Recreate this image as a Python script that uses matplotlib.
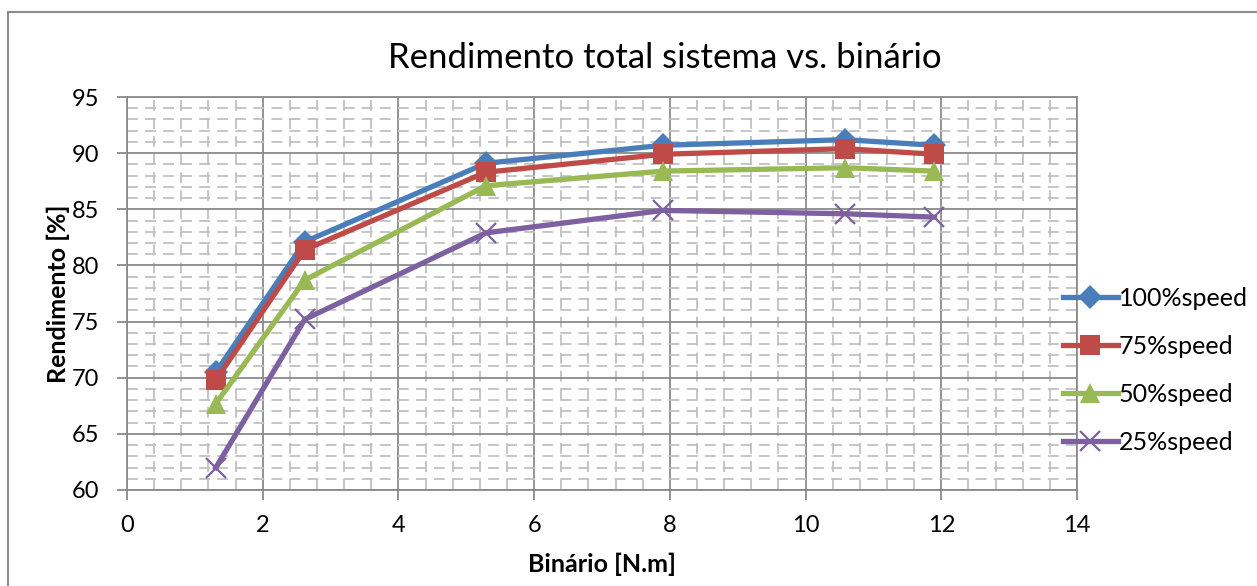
import matplotlib.pyplot as plt
from matplotlib.patches import Rectangle
from matplotlib.ticker import MultipleLocator

plt.rcParams['font.family'] = ['Lato', 'DejaVu Sans']

# binário [N.m] e rendimento [%] para cada velocidade
binario = [1.31, 2.62, 5.29, 7.90, 10.58, 11.90]
rend_100 = [70.5, 82.1, 89.1, 90.7, 91.2, 90.7]
rend_75 = [69.8, 81.4, 88.3, 89.9, 90.4, 89.9]
rend_50 = [67.7, 78.7, 87.1, 88.4, 88.7, 88.4]
rend_25 = [62.0, 75.2, 82.9, 84.9, 84.6, 84.3]

series = [
    ('100%speed', rend_100, '#4A7EBB', 'D', 12),
    ('75%speed', rend_75, '#BE4B48', 's', 14),
    ('50%speed', rend_50, '#98B954', '^', 14),
    ('25%speed', rend_25, '#7D60A0', 'x', 14),
]

fig = plt.figure(figsize=(12.57, 5.86), dpi=100)
fig.patches.append(Rectangle((8 / 1257, -0.05), 1.1, 1 - 12 / 586 + 0.05,
                             transform=fig.transFigure, fill=False,
                             edgecolor='#8C8C8C', linewidth=1.5))
ax = fig.add_axes([127 / 1257, 1 - 490 / 586, 950 / 1257, 393 / 586])

ax.set_xlim(0, 14)
ax.set_ylim(60, 95)
ax.xaxis.set_major_locator(MultipleLocator(2))
ax.xaxis.set_minor_locator(MultipleLocator(0.4))
ax.yaxis.set_major_locator(MultipleLocator(5))
ax.yaxis.set_minor_locator(MultipleLocator(1))
ax.grid(which='major', color='#8A8A8A', linewidth=1.3)
ax.grid(which='minor', color='#C0C0C0', linewidth=1.3, linestyle=(0, (6, 4)))
ax.set_axisbelow(True)
for s in ax.spines.values():
    s.set_color('#8A8A8A')
    s.set_linewidth(1.3)
ax.tick_params(which='major', length=7, width=1.3, color='#8A8A8A',
               labelsize=17)
ax.tick_params(axis='x', pad=11)
ax.tick_params(axis='y', pad=13)
ax.tick_params(which='minor', length=0)

for label, vals, col, mk, ms in series:
    if mk == 'x':
        ax.plot(binario, vals, color=col, linewidth=3.8, marker='x',
                markersize=ms, markeredgewidth=1.6, label=label, zorder=3)
    else:
        ax.plot(binario, vals, color=col, linewidth=3.8, marker=mk,
                markersize=ms, markeredgewidth=0, label=label, zorder=3)

fig.text(665 / 1257, 1 - 58 / 586, 'Rendimento total sistema vs. binário',
         fontsize=25, ha='center', va='center')
ax.set_xlabel('Binário [N.m]', fontsize=18, fontweight='bold', labelpad=12)
ax.set_ylabel('Rendimento [%]', fontsize=18, fontweight='bold', labelpad=1)

fig.legend(loc='center left', bbox_to_anchor=(1040 / 1257, 1 - 370 / 586),
           frameon=False, fontsize=18, handlelength=2.2, handletextpad=0.05,
           labelspacing=1.0)

fig.savefig('out.png', dpi=100)
